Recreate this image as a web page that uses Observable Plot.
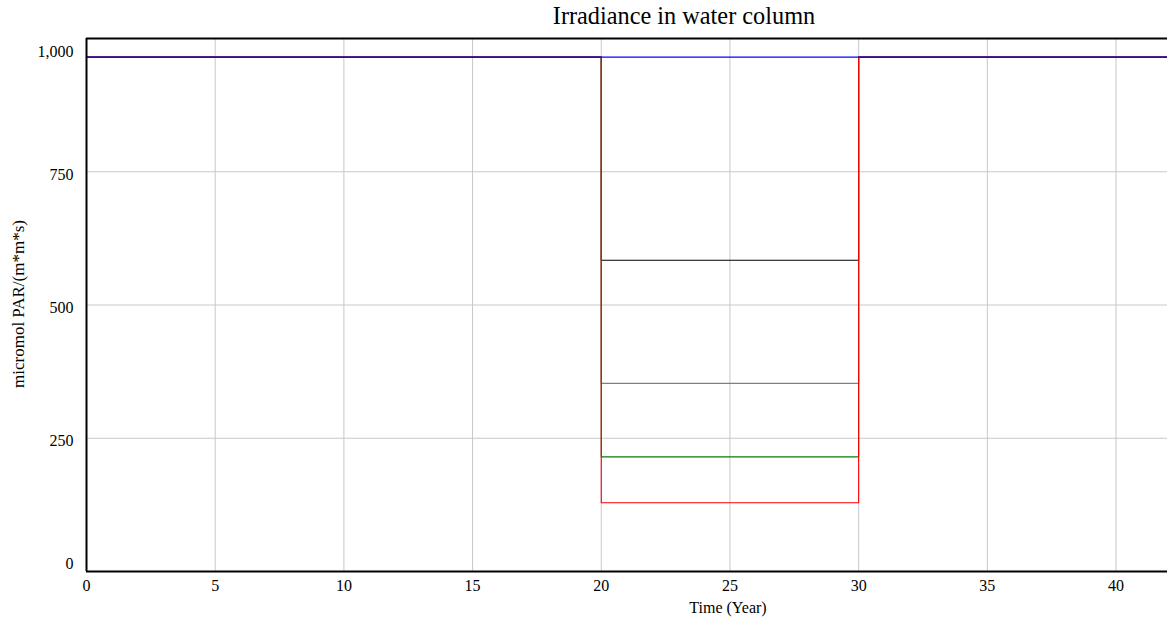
<!DOCTYPE html>
<html>
<head>
<meta charset="utf-8">
<script src="https://cdn.jsdelivr.net/npm/d3@7"></script>
<script src="https://cdn.jsdelivr.net/npm/@observablehq/plot@0.6"></script>
<style>
  body { margin: 0; background: #fff; }
  #wrap { position: relative; width: 1167px; height: 621px; font-family: "Liberation Serif", "Times New Roman", serif; }
  .lbl { position: absolute; white-space: nowrap; color: #000; line-height: 1; }
</style>
</head>
<body>
<div id="wrap"></div>
<script>
// Time breakpoints (years) — values hold until next breakpoint (step-after)
const time = [0, 20, 30, 42];
// Irradiance (micromol PAR/(m*m*s)) per run
const blueRun  = [965, 965, 965, 965];
const blackRun = [965, 584, 965, 965];
const grayRun  = [965, 353, 965, 965];
const greenRun = [965, 215, 965, 965];
const redRun   = [965, 129, 965, 965];
const seriesOrder = [
  {name: "black", values: blackRun, color: "#000000", width: 1.1},
  {name: "gray",  values: grayRun,  color: "#808080", width: 1.1},
  {name: "green", values: greenRun, color: "#008000", width: 1.1},
  {name: "red",   values: redRun,   color: "#ff0000", width: 1.1},
  {name: "blue",  values: blueRun,  color: "#0000ff", width: 1.3}
];
const xTicks = [0, 5, 10, 15, 20, 25, 30, 35, 40];
const yTicks = [0, 250, 500, 750, 1000];
const titleText = "Irradiance in water column";
const xLabel = "Time (Year)";
const yLabel = "micromol PAR/(m*m*s)";

const fmt = d3.format(",");
const lineMarks = seriesOrder.map(s =>
  Plot.line(time.map((t, i) => ({t, v: s.values[i]})), {
    x: "t", y: "v", curve: "step-after", stroke: s.color, strokeWidth: s.width
  })
);

const chart = Plot.plot({
  width: 1167,
  height: 621,
  marginLeft: 86,
  marginRight: 0,
  marginTop: 38,
  marginBottom: 50,
  style: {fontFamily: "'Liberation Serif', 'Times New Roman', serif", fontSize: "16px", background: "#fff"},
  x: {domain: [0, 42]},
  y: {domain: [0, 1000]},
  marks: [
    Plot.gridX(xTicks, {stroke: "#c8c8c8", strokeOpacity: 1, strokeWidth: 1}),
    Plot.gridY(yTicks.filter(d => d > 0 && d < 1000), {stroke: "#c8c8c8", strokeOpacity: 1, strokeWidth: 1}),
    Plot.axisX(xTicks, {tickSize: 0, tickPadding: 8, tickFormat: fmt, label: null, fontSize: 16}),
    Plot.axisY(yTicks.filter(d => d > 0 && d < 1000), {tickSize: 0, tickPadding: 13, tickFormat: fmt, label: null, fontSize: 16, dy: 3}),
    Plot.axisY([1000], {tickSize: 0, tickPadding: 13, tickFormat: fmt, label: null, fontSize: 16, dy: 13}),
    Plot.axisY([0], {tickSize: 0, tickPadding: 13, tickFormat: fmt, label: null, fontSize: 16, dy: -8}),
    ...lineMarks,
    Plot.ruleY([1000], {stroke: "#000", strokeWidth: 2}),
    Plot.ruleY([0], {stroke: "#000", strokeWidth: 2}),
    Plot.ruleX([0], {stroke: "#000", strokeWidth: 2})
  ]
});

const wrap = document.getElementById("wrap");
wrap.appendChild(chart);
chart.style.position = "absolute";
chart.style.left = "0px";
chart.style.top = "0px";

function addLabel(text, css) {
  const d = document.createElement("div");
  d.className = "lbl";
  d.textContent = text;
  Object.assign(d.style, css);
  wrap.appendChild(d);
}
addLabel(titleText, {left: "684px", top: "16px", fontSize: "24.3px", transform: "translate(-50%, -50%)"});
addLabel(xLabel, {left: "728px", top: "608px", fontSize: "16px", transform: "translate(-50%, -50%)"});
addLabel(yLabel, {left: "18px", top: "304px", fontSize: "17px", transform: "translate(-50%, -50%) rotate(-90deg)"});
</script>
</body>
</html>
